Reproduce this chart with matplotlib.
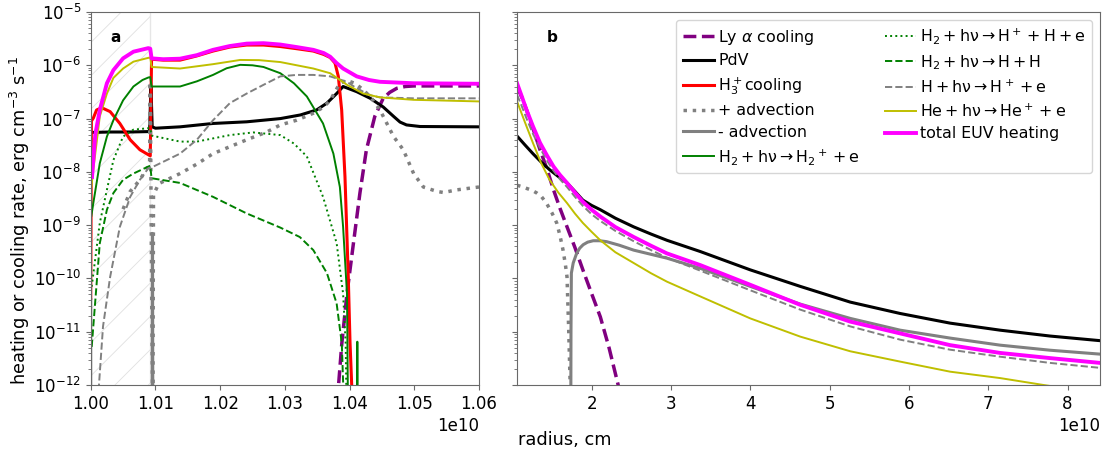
import numpy as np
import matplotlib
matplotlib.use('Agg')
import matplotlib.pyplot as plt

plt.rcParams['font.family'] = ['DejaVu Sans']
plt.rcParams['font.size'] = 12
plt.rcParams['axes.edgecolor'] = 'dimgray'
plt.rcParams['xtick.color'] = 'dimgray'
plt.rcParams['ytick.color'] = 'dimgray'
plt.rcParams['xtick.labelcolor'] = 'black'
plt.rcParams['ytick.labelcolor'] = 'black'
plt.rcParams['hatch.linewidth'] = 0.6

nan = np.nan
R_UNIT = 1e10  # radii below are in units of 1e10 cm

#------------------------------- panel a data (r, rate)
lya_a_r = [1.0382, 1.0383, 1.0388, 1.0396, 1.0406, 1.0416, 1.0426, 1.0439, 1.0452, 1.0462, 1.0473, 1.0486,
           1.0499, 1.0600]
lya_a_q = [1e-13, 1e-12, 6e-12, 5.2e-11, 4.6e-10, 4e-9, 2.6e-8, 1.1e-7, 2.4e-7, 3.1e-7, 3.7e-7, 4.0e-7,
           4.1e-7, 4.1e-7]

pdv_a_r = [1.0000, 1.0003, 1.0030, 1.0060, 1.0089, 1.0091, 1.0093, 1.0095, 1.0100, 1.0138, 1.0189, 1.0241,
           1.0293, 1.0324, 1.0349, 1.0365, 1.0380, 1.0390, 1.0411, 1.0432, 1.0452, 1.0468, 1.0478, 1.0488,
           1.0509, 1.0600]
pdv_a_q = [5.3e-8, 5.5e-8, 5.6e-8, 5.6e-8, 5.7e-8, 5.8e-8, 4e-7, 7e-8, 6.6e-8, 7e-8, 8.1e-8, 8.7e-8,
           1.0e-7, 1.17e-7, 1.45e-7, 1.95e-7, 2.95e-7, 4e-7, 3.2e-7, 2.4e-7, 1.65e-7, 1.1e-7, 8.6e-8, 7.6e-8,
           7.1e-8, 7e-8]

h3_a_r = [1.0000, 1.0001, 1.0004, 1.0009, 1.0017, 1.0030, 1.0045, 1.0061, 1.0076, 1.0089, 1.0092, 1.0094,
          1.0112, 1.0138, 1.0164, 1.0189, 1.0215, 1.0241, 1.0267, 1.0293, 1.0318, 1.0344, 1.0360, 1.0370,
          1.03775, 1.03826, 1.03878, 1.03929, 1.0398, 1.04007, 1.04033, 1.0404]
h3_a_q = [4.2e-11, 9e-8, 1.02e-7, 1.45e-7, 1.6e-7, 1.35e-7, 8.1e-8, 4e-8, 2.6e-8, 2.1e-8, 2.0e-8, 1.3e-6,
          1.25e-6, 1.25e-6, 1.5e-6, 1.85e-6, 2.2e-6, 2.4e-6, 2.4e-6, 2.25e-6, 2.05e-6, 1.85e-6, 1.6e-6, 1.4e-6,
          1.1e-6, 6.2e-7, 1.45e-7, 8.1e-9, 1.07e-10, 6.3e-12, 1e-12, 1e-13]

padv_a_r = [1.0050, 1.0061, 1.0076, 1.0087, 1.0091, 1.0092, 1.0094, 1.0096, nan,
            1.0096, 1.0097, 1.0105, 1.0138, 1.0164, 1.0189, 1.0241, 1.0272, 1.0293, 1.0318, 1.0344, 1.0360,
            1.0370, 1.0385, 1.0396, 1.0408, 1.0421, 1.0434, 1.0447, 1.0468, 1.0483, 1.0499, 1.0514, 1.0535,
            1.0545, 1.0566, 1.0600]
padv_a_q = [2e-9, 4.3e-9, 7.1e-9, 1.17e-8, 1.5e-8, 4.9e-7, 1e-10, 1e-13, nan,
            1e-13, 3.7e-9, 6e-9, 9.3e-9, 1.4e-8, 2.2e-8, 4e-8, 5.6e-8, 7.6e-8, 9.3e-8, 1.26e-7, 1.65e-7,
            2.2e-7, 4.6e-7, 5.2e-7, 4.6e-7, 3.5e-7, 2.4e-7, 1.45e-7, 4.6e-8, 2.6e-8, 9.3e-9, 5.2e-9, 4.3e-9,
            4.1e-9, 4.6e-9, 5.2e-9]

madv_a_r = [1.0000, 1.0000, nan, 1.0095, 1.00955, 1.0096]
madv_a_q = [1e-13, 4e-11, nan, 1e-13, 7e-10, 1e-13]

h2p_a_r = [1.0001, 1.0004, 1.0014, 1.0025, 1.0035, 1.0050, 1.0066, 1.0080, 1.0089, 1.0092, 1.0094, 1.0138,
           1.0164, 1.0189, 1.0210, 1.0231, 1.0250, 1.0267, 1.0293, 1.0314, 1.0334, 1.0359, 1.0375, 1.0385,
           1.0390, 1.0396, 1.0398, nan, 1.0411, 1.0412, 1.0413]
h2p_a_q = [1.5e-9, 2.6e-9, 1.45e-8, 4.6e-8, 9.3e-8, 2.2e-7, 4e-7, 5.3e-7, 5.9e-7, 6e-7, 4e-7, 4e-7,
           5e-7, 6.6e-7, 8.8e-7, 1.02e-6, 1.0e-6, 9.3e-7, 7.1e-7, 4.6e-7, 2.6e-7, 8.1e-8, 2.2e-8, 5.2e-9,
           9.3e-10, 5.2e-11, 1e-13, nan, 1e-13, 6.5e-12, 1e-13]

h2hp_a_r = [1.00015, 1.0014, 1.0025, 1.0035, 1.0050, 1.0066, 1.0089, 1.0092, 1.0094, 1.0138, 1.0164,
            1.0215, 1.0251, 1.0293, 1.0314, 1.0334, 1.0359, 1.0380, 1.0390, 1.0394, 1.0396]
h2hp_a_q = [7e-11, 1.1e-9, 4.6e-9, 1.66e-8, 4.6e-8, 6.2e-8, 6.6e-8, 6.6e-8, 4.8e-8, 3.7e-8, 3.7e-8,
            4.9e-8, 5.5e-8, 4.9e-8, 3.4e-8, 1.95e-8, 3.4e-9, 4.6e-10, 5.2e-11, 6e-12, 1e-13]

h2hh_a_r = [1.00015, 1.0014, 1.0025, 1.0035, 1.0050, 1.0066, 1.0089, 1.0092, 1.0094, 1.0138, 1.0189,
            1.0241, 1.0293, 1.0323, 1.0344, 1.0365, 1.0380, 1.0388, 1.0393]
h2hh_a_q = [5.2e-12, 4.6e-10, 1.95e-9, 4e-9, 7.1e-9, 9.3e-9, 1.26e-8, 1.3e-8, 7.6e-9, 6.2e-9, 3.4e-9,
            1.66e-9, 9e-10, 6e-10, 3.4e-10, 1.26e-10, 3.4e-11, 6e-12, 1e-13]

hhp_a_r = [1.0011, 1.0019, 1.0030, 1.0045, 1.0061, 1.0076, 1.0089, 1.0097, 1.0138, 1.0164, 1.0189, 1.0215,
           1.0241, 1.0267, 1.0293, 1.0318, 1.0344, 1.0370, 1.0396, 1.0408, 1.0421, 1.0434, 1.0447, 1.0499,
           1.0600]
hhp_a_q = [5e-13, 1.26e-11, 1.07e-10, 9.3e-10, 3.4e-9, 7.1e-9, 1.17e-8, 1.26e-8, 2.2e-8, 4e-8, 9.3e-8, 1.95e-7,
           2.95e-7, 4.3e-7, 6.2e-7, 6.6e-7, 6.6e-7, 6.2e-7, 4.9e-7, 3.9e-7, 3.2e-7, 2.7e-7, 2.5e-7, 2.4e-7,
           2.4e-7]

he_a_r = [1.0001, 1.0004, 1.0014, 1.0025, 1.0035, 1.0050, 1.0066, 1.0089, 1.0092, 1.0094, 1.0138, 1.0189,
          1.0231, 1.0260, 1.0293, 1.0344, 1.0370, 1.0396, 1.0421, 1.0447, 1.0499, 1.0600]
he_a_q = [5.2e-9, 1.1e-8, 1.1e-7, 2.95e-7, 5.8e-7, 8.7e-7, 1.17e-6, 1.38e-6, 1.4e-6, 9.3e-7, 8.7e-7, 1.05e-6,
          1.26e-6, 1.25e-6, 1.15e-6, 8.7e-7, 7.1e-7, 4.3e-7, 2.95e-7, 2.5e-7, 2.25e-7, 2.1e-7]

euv_a_r = [1.0002, 1.0007, 1.0014, 1.0025, 1.0035, 1.0050, 1.0066, 1.0089, 1.0092, 1.0094, 1.0112, 1.0138,
           1.0164, 1.0189, 1.0215, 1.0241, 1.0267, 1.0293, 1.0318, 1.0344, 1.0360, 1.0370, 1.0380, 1.0390,
           1.0411, 1.0430, 1.0447, 1.0499, 1.0600]
euv_a_q = [8e-9, 5e-8, 1.45e-7, 4.6e-7, 8.1e-7, 1.35e-6, 1.8e-6, 2.1e-6, 2.05e-6, 1.35e-6, 1.3e-6, 1.33e-6,
           1.55e-6, 1.95e-6, 2.3e-6, 2.55e-6, 2.6e-6, 2.45e-6, 2.2e-6, 1.95e-6, 1.7e-6, 1.45e-6, 1.1e-6, 8.7e-7,
           6.2e-7, 5.3e-7, 4.9e-7, 4.6e-7, 4.5e-7]

#------------------------------- panel b data (r, rate)
lya_b_r = [1.06, 1.12, 1.18, 1.26, 1.35, 1.44, 1.52, 1.60, 1.69, 1.79, 1.89, 2.00, 2.11, 2.22, 2.335, 2.40]
lya_b_q = [4e-7, 2.5e-7, 1.45e-7, 6.6e-8, 2.6e-8, 1.1e-8, 4.6e-9, 2.1e-9, 9.3e-10, 3.8e-10, 1.45e-10,
           5.2e-11, 1.9e-11, 5e-12, 1e-12, 3e-13]

pdv_b_r = [1.06, 1.16, 1.26, 1.36, 1.47, 1.58, 1.69, 1.79, 1.89, 2.00, 2.11, 2.30, 2.53, 2.75, 2.95, 3.37,
           4.00, 4.63, 5.26, 5.89, 6.52, 7.15, 7.78, 8.41]
pdv_b_q = [4.7e-8, 3.2e-8, 2.2e-8, 1.55e-8, 1.1e-8, 8.2e-9, 6.2e-9, 4.3e-9, 2.95e-9, 2.35e-9, 1.95e-9,
           1.35e-9, 9.3e-10, 6.8e-10, 5.2e-10, 3.2e-10, 1.45e-10, 7.1e-11, 3.6e-11, 2.2e-11, 1.45e-11,
           1.07e-11, 8.3e-12, 6.8e-12]

padv_b_r = [1.06, 1.12, 1.18, 1.25, 1.31, 1.37, 1.43, 1.50, 1.56, 1.60, 1.64, 1.67, 1.69, 1.71, 1.73, 1.735]
padv_b_q = [5.6e-9, 5.3e-9, 4.9e-9, 4.5e-9, 4e-9, 3.4e-9, 2.6e-9, 1.7e-9, 1.1e-9, 6.5e-10, 3.4e-10,
           1.8e-10, 1.07e-10, 1.26e-11, 1e-12, 1e-13]

madv_b_r = [1.737, 1.740, 1.745, 1.768, 1.811, 1.85, 1.894, 1.95, 2.02, 2.10, 2.19, 2.35, 2.53, 2.95, 3.37,
            4.00, 4.63, 5.26, 5.89, 6.52, 7.15, 7.78, 8.41]
madv_b_q = [1e-13, 1e-11, 1.26e-10, 1.95e-10, 2.95e-10, 3.7e-10, 4.3e-10, 4.8e-10, 5.1e-10, 5.1e-10, 4.9e-10,
            4.2e-10, 3.4e-10, 2.4e-10, 1.55e-10, 7.1e-11, 3.3e-11, 1.78e-11, 1.07e-11, 7.6e-12, 5.6e-12,
            4.5e-12, 3.8e-12]

hhp_b_r = [1.06, 1.12, 1.18, 1.26, 1.35, 1.44, 1.52, 1.60, 1.69, 1.79, 1.89, 2.00, 2.11, 2.30, 2.53, 2.75,
           2.95, 3.37, 4.00, 4.63, 5.26, 5.89, 6.52, 7.15, 7.78, 8.41]
hhp_b_q = [2.8e-7, 1.7e-7, 1.0e-7, 5.2e-8, 2.8e-8, 1.6e-8, 1.05e-8, 7.3e-9, 5.2e-9, 3.4e-9, 2.3e-9, 1.6e-9,
           1.2e-9, 7.8e-10, 5e-10, 3.4e-10, 2.45e-10, 1.4e-10, 6e-11, 2.6e-11, 1.26e-11, 7.1e-12, 4.6e-12,
           3.4e-12, 2.6e-12, 2.1e-12]

he_b_r = [1.06, 1.16, 1.26, 1.36, 1.47, 1.58, 1.69, 1.79, 1.89, 2.00, 2.11, 2.30, 2.53, 2.75, 2.95, 3.37,
          4.00, 4.63, 5.26, 5.89, 6.52, 7.15, 7.70, 8.41]
he_b_q = [2.1e-7, 8.5e-8, 3.5e-8, 1.5e-8, 7.1e-9, 4.1e-9, 2.6e-9, 1.65e-9, 1.1e-9, 7.5e-10, 5.2e-10,
          3.1e-10, 1.95e-10, 1.25e-10, 8.7e-11, 4.6e-11, 1.78e-11, 8.1e-12, 4.3e-12, 2.75e-12, 1.78e-12,
          1.35e-12, 1e-12, 7e-13]

euv_b_r = [1.06, 1.12, 1.18, 1.26, 1.35, 1.44, 1.52, 1.60, 1.69, 1.79, 1.89, 2.00, 2.11, 2.30, 2.53, 2.75,
           2.95, 3.37, 4.00, 4.63, 5.26, 5.89, 6.52, 7.15, 7.78, 8.41]
euv_b_q = [4.6e-7, 2.6e-7, 1.45e-7, 7.2e-8, 3.5e-8, 2.0e-8, 1.26e-8, 8.8e-9, 6.2e-9, 4.1e-9, 2.75e-9,
           1.95e-9, 1.45e-9, 9.2e-10, 6e-10, 4.1e-10, 2.95e-10, 1.78e-10, 7.6e-11, 3.2e-11, 1.55e-11, 9.3e-12,
           5.6e-12, 4e-12, 3.2e-12, 2.6e-12]

hatch_r = [1.0000, 1.0092]

#------------------------------- styles
labels = {
    'lya': 'Ly $\\alpha$ cooling',
    'pdv': 'PdV',
    'h3': 'H$_3^+$cooling',
    'padv': '+ advection',
    'madv': '- advection',
    'h2p': '$\\mathrm{H_2 + h\\nu \\rightarrow H_2{}^+ + e}$',
    'h2hp': '$\\mathrm{H_2 + h\\nu \\rightarrow H^+ + H + e}$',
    'h2hh': '$\\mathrm{H_2 + h\\nu \\rightarrow H + H}$',
    'hhp': '$\\mathrm{H + h\\nu \\rightarrow H^+ + e}$',
    'he': '$\\mathrm{He + h\\nu \\rightarrow He^+ + e}$',
    'euv': 'total EUV heating',
}
styles = {
    'lya': dict(color='purple', ls='--', lw=2.5),
    'pdv': dict(color='black', ls='-', lw=2.2),
    'h3': dict(color='red', ls='-', lw=2.2),
    'padv': dict(color='gray', ls=':', lw=2.5),
    'madv': dict(color='gray', ls='-', lw=2.2),
    'h2p': dict(color='green', ls='-', lw=1.4),
    'h2hp': dict(color='green', ls=':', lw=1.4),
    'h2hh': dict(color='green', ls='--', lw=1.4),
    'hhp': dict(color='gray', ls='--', lw=1.4),
    'he': dict(color='y', ls='-', lw=1.4),
    'euv': dict(color='magenta', ls='-', lw=2.8),
}

panel_a = {
    'lya': (lya_a_r, lya_a_q), 'pdv': (pdv_a_r, pdv_a_q), 'h3': (h3_a_r, h3_a_q),
    'padv': (padv_a_r, padv_a_q), 'madv': (madv_a_r, madv_a_q), 'h2p': (h2p_a_r, h2p_a_q),
    'h2hp': (h2hp_a_r, h2hp_a_q), 'h2hh': (h2hh_a_r, h2hh_a_q), 'hhp': (hhp_a_r, hhp_a_q),
    'he': (he_a_r, he_a_q), 'euv': (euv_a_r, euv_a_q),
}
panel_b = {
    'lya': (lya_b_r, lya_b_q), 'pdv': (pdv_b_r, pdv_b_q), 'h3': ([], []),
    'padv': (padv_b_r, padv_b_q), 'madv': (madv_b_r, madv_b_q), 'h2p': ([], []),
    'h2hp': ([], []), 'h2hh': ([], []), 'hhp': (hhp_b_r, hhp_b_q),
    'he': (he_b_r, he_b_q), 'euv': (euv_b_r, euv_b_q),
}

#------------------------------- figure
fig = plt.figure(figsize=(11.16, 4.55), dpi=100)
ax1 = fig.add_axes([0.0813, 0.1538, 0.3479, 0.8198])
ax2 = fig.add_axes([0.4633, 0.1538, 0.5224, 0.8198], sharey=ax1)

ax1.axvspan(hatch_r[0] * R_UNIT, hatch_r[1] * R_UNIT, facecolor='none', edgecolor='#e0e0e0',
            hatch='/', linewidth=0, zorder=0)
ax1.axvline(hatch_r[1] * R_UNIT, color='#e6e6e6', lw=1, zorder=0)

for key in labels:
    r, q = panel_a[key]
    ax1.plot(np.array(r) * R_UNIT, q, label=labels[key], **styles[key])
    r, q = panel_b[key]
    ax2.plot(np.array(r) * R_UNIT, q, label=labels[key], **styles[key])

ax1.set_yscale('log')
ax1.set_ylim(1e-12, 1e-5)
ax1.set_xlim(1.0e10, 1.06e10)
ax2.set_xlim(1.06e10, 8.41e10)
ax1.set_xticks([1.00e10, 1.01e10, 1.02e10, 1.03e10, 1.04e10, 1.05e10, 1.06e10])
ax2.set_xticks([2e10, 3e10, 4e10, 5e10, 6e10, 7e10, 8e10])
for ax in (ax1, ax2):
    ax.ticklabel_format(axis='x', style='sci', scilimits=(0, 0), useOffset=False)
ax2.tick_params(axis='y', labelleft=False)

fig.text(0.018, 0.516, 'heating or cooling rate, erg cm$^{-3}$ s$^{-1}$', rotation=90,
         ha='center', va='center', fontsize=12.8)
fig.text(0.506, 0.033, 'radius, cm', ha='center', va='center', fontsize=12.8)

ax1.text(0.063, 0.933, 'a', transform=ax1.transAxes, ha='center', va='center',
         fontsize=11, fontweight='bold')
ax2.text(0.06, 0.933, 'b', transform=ax2.transAxes, ha='center', va='center',
         fontsize=11, fontweight='bold')

ax2.legend(loc='upper right', ncol=2, fontsize=11.4, handlelength=2.0, columnspacing=1.55,
           handletextpad=0.25, labelspacing=0.42)

fig.savefig('out.png', dpi=100)
